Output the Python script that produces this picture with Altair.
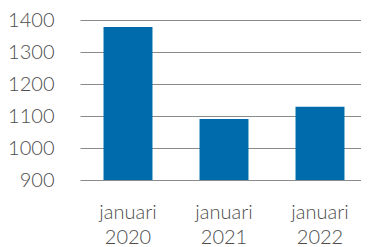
import altair as alt
import pandas as pd

categories = ["januari 2020", "januari 2021", "januari 2022"]
values = [1378, 1091, 1129]
y_ticks = [900, 1000, 1100, 1200, 1300, 1400]

df = pd.DataFrame({"cat": categories, "val": values, "base": [900] * len(values)})

FONT = "Lato"

chart = alt.Chart(df).mark_bar(color="#006BAC").encode(
    x=alt.X("cat:N", sort=categories,
            scale=alt.Scale(paddingInner=0.49, paddingOuter=0.245, range=[0, 288]),
            axis=alt.Axis(title=None, labelAngle=0, domain=False, ticks=False,
                          labelExpr="split(datum.label, ' ')",
                          labelFontSize=20, labelLineHeight=25, labelPadding=22,
                          labelColor="#4d4d4d", labelFont=FONT, labelFontWeight=300)),
    y=alt.Y("val:Q", scale=alt.Scale(domain=[900, 1400], zero=False, nice=False),
            axis=alt.Axis(title=None, values=y_ticks, format="d", domain=False, ticks=False,
                          grid=True, gridColor="#8a8a8a", gridWidth=1.2,
                          labelFontSize=20, labelPadding=26, labelColor="#4d4d4d",
                          labelFont=FONT, labelFontWeight=300)),
    y2=alt.Y2("base:Q"),
).properties(
    width=281, height=160,
    autosize=alt.AutoSizeParams(type="none"),
    padding={"left": 72, "top": 12, "right": 0, "bottom": 67},
).configure_view(stroke=None)

chart.save("out.html", embed_options={"renderer": "svg", "actions": False})
